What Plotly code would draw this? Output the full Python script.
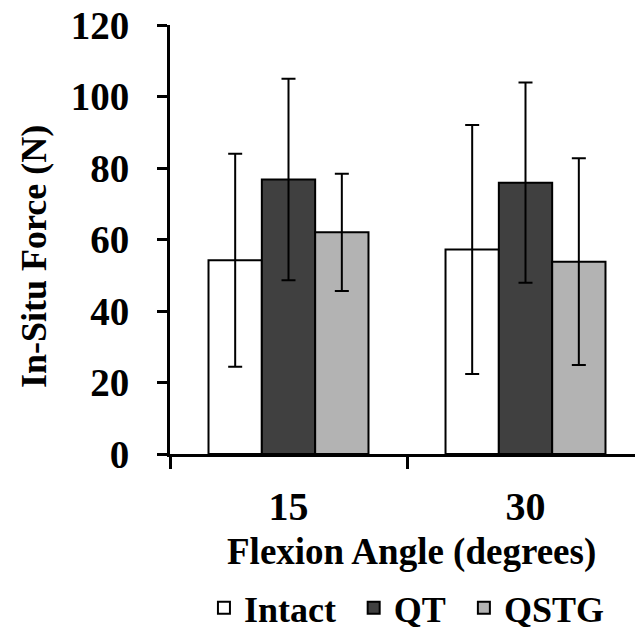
import plotly.graph_objects as go

categories = ["15", "30"]
series_names = ["Intact", "QT", "QSTG"]
intact_vals = [54.2, 57.2]
intact_err = [29.8, 34.8]
qt_vals = [76.8, 75.9]
qt_err = [28.2, 28.0]
qstg_vals = [62.0, 53.8]
qstg_err = [16.4, 28.9]
y_ticks = [0, 20, 40, 60, 80, 100, 120]

FONT = "Liberation Serif"
fills = ["#ffffff", "#404040", "#b3b3b3"]
legend_ids = ["legend", "legend2", "legend3"]

fig = go.Figure()
for name, vals, errs, col, lg in zip(series_names, [intact_vals, qt_vals, qstg_vals],
                                     [intact_err, qt_err, qstg_err], fills, legend_ids):
    fig.add_trace(go.Bar(
        x=categories, y=vals, name=name, legend=lg,
        marker=dict(color=col, line=dict(color="black", width=2)),
        error_y=dict(type="data", array=errs, visible=True, color="black",
                     thickness=2, width=7),
    ))

leg_font = dict(size=36, family=FONT, weight="bold", color="black")
leg_y = -0.3584
def leg(x):
    return dict(orientation="h", x=x, xanchor="left", y=leg_y, yanchor="middle",
                font=leg_font, bgcolor="rgba(0,0,0,0)", borderwidth=0)

fig.update_layout(
    width=635, height=638,
    margin=dict(l=170, r=0, t=25, b=172),
    paper_bgcolor="white", plot_bgcolor="white",
    barmode="group", bargap=0.325, bargroupgap=0,
    font=dict(family=FONT, color="black", weight="bold"),
    showlegend=True,
    legend=leg(0.073),
    legend2=leg(0.395),
    legend3=leg(0.632),
    xaxis=dict(
        type="category", range=[-0.5, 1.462], automargin=False,
        showline=True, linecolor="black", linewidth=3,
        ticks="outside", tickson="boundaries", ticklen=12, tickwidth=3, tickcolor="black",
        ticklabelstandoff=15,
        tickfont=dict(size=40, family=FONT, weight="bold"),
        showgrid=False, zeroline=False,
    ),
    yaxis=dict(
        range=[0, 120], tickvals=y_ticks, ticktext=[str(v) for v in y_ticks],
        automargin=False, ticklabeloverflow="allow",
        showline=True, linecolor="black", linewidth=3,
        ticks="outside", ticklen=10, tickwidth=3, tickcolor="black",
        ticklabelstandoff=20,
        tickfont=dict(size=39, family=FONT, weight="bold"),
        showgrid=False, zeroline=False,
    ),
    annotations=[
        dict(
            text="In-Situ Force (N)", textangle=-90, showarrow=False,
            xref="paper", yref="paper", x=(34 - 170) / 465, y=(466 - 263.5) / 441,
            xanchor="center", yanchor="middle",
            font=dict(size=36, family=FONT, weight="bold", color="black"),
        ),
        dict(
            text="Flexion Angle (degrees)", showarrow=False,
            xref="paper", yref="paper", x=(411 - 170) / 465, y=(466 - 567) / 441,
            xanchor="center", yanchor="middle",
            font=dict(size=37, family=FONT, weight="bold", color="black"),
        ),
    ],
)

fig.write_html(
    "out.html",
    config={"displayModeBar": False},
    post_script="document.body.style.margin='0';document.body.style.overflow='hidden';",
)
